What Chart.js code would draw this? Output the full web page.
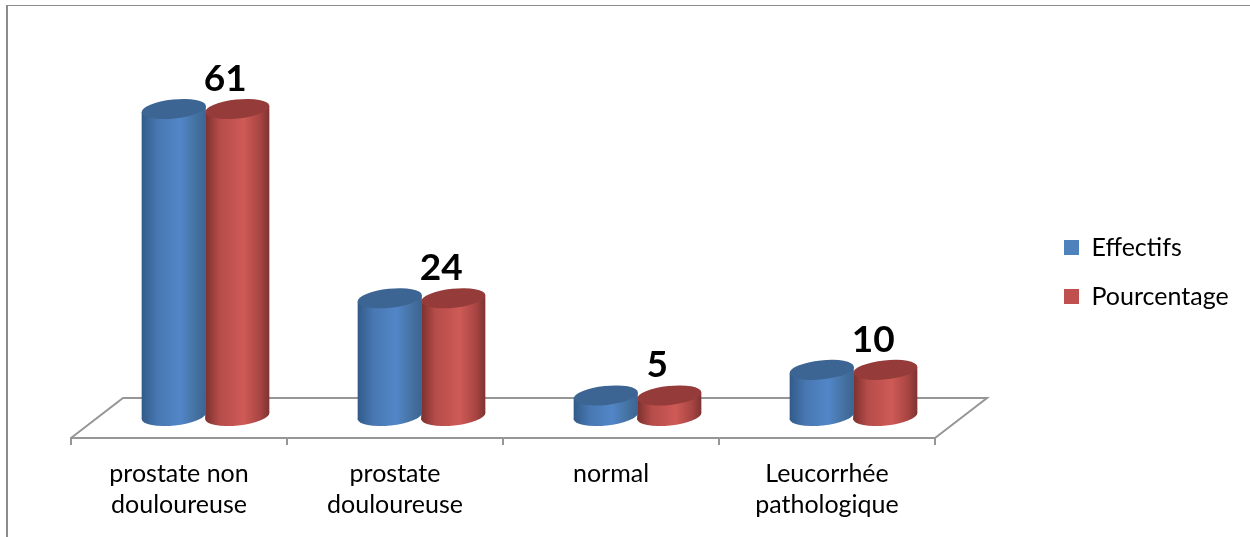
<!DOCTYPE html>
<html>
<head>
<meta charset="utf-8">
<title>Chart</title>
<script src="https://cdn.jsdelivr.net/npm/chart.js@4"></script>
<style>
  html, body { margin: 0; padding: 0; background: #fff; overflow: hidden; }
  canvas { display: block; }
</style>
</head>
<body>
<canvas id="chart" width="1250" height="537"></canvas>
<script>
const categories = [
  ["prostate non", "douloureuse"],
  ["prostate", "douloureuse"],
  ["normal"],
  ["Leucorrhée", "pathologique"],
];
const seriesNames = ["Effectifs", "Pourcentage"];
const effectifs = [61, 24, 5, 10];
const pourcentage = [61, 24, 5, 10];
const legendColors = ["#4f81bd", "#c0504d"];

const capColors = ["#3d6594", "#953c3a"];
const bodyStops = [
  [[0, "#315a88"], [0.25, "#4878b2"], [0.6, "#5286c8"], [0.85, "#44719f"], [1, "#3b6494"]],
  [[0, "#7a302e"], [0.22, "#b54c49"], [0.6, "#cf5a56"], [0.85, "#a84543"], [1, "#7c3332"]],
];

const LABEL_FONT = "Lato, Carlito, sans-serif";
const GREY = "#969696";
const DEPTH_X = 52;
const DEPTH_Y = 40;
const TILT = -6 * Math.PI / 180;
const RY = 9.5;

// where the side of a tilted ellipse touches the vertical
const sidePoint = (rx, sign) => {
  const t = Math.atan2(-RY * Math.sin(TILT), rx * Math.cos(TILT));
  return {
    x: sign * (rx * Math.cos(t) * Math.cos(TILT) - RY * Math.sin(t) * Math.sin(TILT)),
    y: sign * (rx * Math.cos(t) * Math.sin(TILT) + RY * Math.sin(t) * Math.cos(TILT)),
  };
};

const drawCylinder = (ctx, cx, topY, baseY, rx, stops, capColor) => {
  const grad = ctx.createLinearGradient(cx - rx, 0, cx + rx, 0);
  stops.forEach((s) => grad.addColorStop(s[0], s[1]));
  const a = sidePoint(rx, 1);
  const b = sidePoint(rx, -1);

  ctx.fillStyle = grad;
  ctx.beginPath();
  ctx.ellipse(cx, baseY, rx, RY, TILT, 0, Math.PI * 2);
  ctx.fill();
  ctx.beginPath();
  ctx.moveTo(cx + a.x, topY + a.y);
  ctx.lineTo(cx + a.x, baseY + a.y);
  ctx.lineTo(cx + b.x, baseY + b.y);
  ctx.lineTo(cx + b.x, topY + b.y);
  ctx.closePath();
  ctx.fill();

  ctx.fillStyle = capColor;
  ctx.beginPath();
  ctx.ellipse(cx, topY, rx, RY, TILT, 0, Math.PI * 2);
  ctx.fill();
};

const scene = {
  id: "scene",
  afterLayout(chart) {
    const legend = chart.legend;
    legend.left = 1040;
    legend.top = 211;
    legend.right = legend.left + legend.width;
    legend.bottom = legend.top + legend.height;
  },
  beforeDraw(chart) {
    const ctx = chart.ctx;
    ctx.fillStyle = "#8c8c8c";
    ctx.fillRect(6, 5, 1244, 1);
    ctx.fillRect(6, 5, 2, 532);
  },
  beforeDatasetsDraw(chart) {
    const ctx = chart.ctx;
    const x = chart.scales.x;
    const y = chart.scales.y;
    ctx.save();
    ctx.strokeStyle = GREY;
    ctx.lineWidth = 2;
    ctx.beginPath();
    ctx.moveTo(x.left, y.bottom);
    ctx.lineTo(x.left + DEPTH_X, y.bottom - DEPTH_Y);
    ctx.lineTo(x.right + DEPTH_X, y.bottom - DEPTH_Y);
    ctx.lineTo(x.right, y.bottom);
    ctx.stroke();
    ctx.restore();
  },
  afterDatasetDraw(chart, args) {
    const ctx = chart.ctx;
    const i = args.index;
    ctx.save();
    args.meta.data.forEach((bar) => {
      const cx = bar.x + 26.5;
      drawCylinder(ctx, cx, bar.y - 17, bar.base - 22, bar.width / 2 + 0.5, bodyStops[i], capColors[i]);
    });
    ctx.restore();
  },
  afterDatasetsDraw(chart) {
    const ctx = chart.ctx;
    const values = chart.data.datasets[1].data;
    ctx.save();
    ctx.fillStyle = "#000";
    ctx.font = "bold 37px " + LABEL_FONT;
    ctx.textAlign = "center";
    ctx.textBaseline = "alphabetic";
    chart.getDatasetMeta(1).data.forEach((bar, n) => {
      ctx.fillText(values[n], bar.x + 14.5, bar.y - 35);
    });
    ctx.restore();
  },
};

new Chart(document.getElementById("chart"), {
  type: "bar",
  data: {
    labels: categories,
    datasets: [
      { label: seriesNames[0], data: effectifs, backgroundColor: "transparent" },
      { label: seriesNames[1], data: pourcentage, backgroundColor: "transparent" },
    ],
  },
  plugins: [scene],
  options: {
    responsive: false,
    animation: false,
    layout: { padding: { left: 71, right: 315, top: 80, bottom: 4 } },
    datasets: { bar: { categoryPercentage: 0.588, barPercentage: 1 } },
    scales: {
      x: {
        grid: { drawOnChartArea: false, color: GREY, lineWidth: 2, tickLength: 7 },
        border: { color: GREY, width: 2 },
        ticks: {
          color: "#000",
          padding: 13,
          maxRotation: 0,
          autoSkip: false,
          font: { family: LABEL_FONT, size: 25, lineHeight: 1.24 },
        },
      },
      y: { display: false, min: 0, max: 70 },
    },
    plugins: {
      tooltip: { enabled: false },
      legend: {
        position: "chartArea",
        align: "start",
        labels: {
          boxWidth: 15,
          boxHeight: 15,
          padding: 24,
          color: "#000",
          font: { family: LABEL_FONT, size: 25 },
          generateLabels: () => seriesNames.map((name, i) => ({
            text: name,
            fontColor: "#000",
            fillStyle: legendColors[i],
            strokeStyle: legendColors[i],
            lineWidth: 0,
            datasetIndex: i,
          })),
        },
      },
    },
  },
});
</script>
</body>
</html>
